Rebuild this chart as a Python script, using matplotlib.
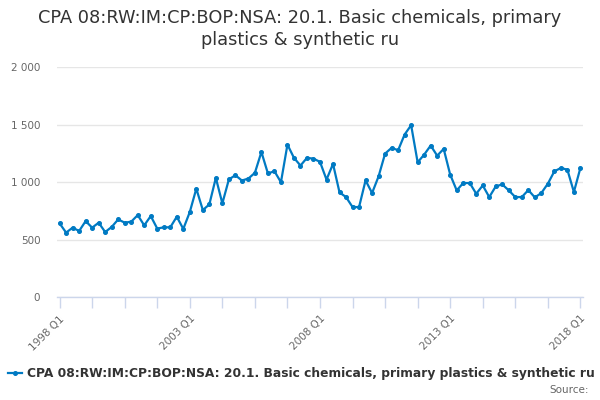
import matplotlib
matplotlib.use("Agg")
import matplotlib.pyplot as plt
from matplotlib.ticker import FuncFormatter, FixedLocator

title = "CPA 08:RW:IM:CP:BOP:NSA: 20.1. Basic chemicals, primary\nplastics & synthetic ru"
series_name = "CPA 08:RW:IM:CP:BOP:NSA: 20.1. Basic chemicals, primary plastics & synthetic ru"

quarters = [f"{y} Q{q}" for y in range(1998, 2019) for q in range(1, 5)][:81]
values = [640, 560, 603, 574, 660, 603, 646, 565, 609, 675,
          646, 655, 712, 623, 704, 595, 606, 606, 698, 592,
          739, 942, 756, 805, 1036, 814, 1022, 1059, 1013, 1030,
          1080, 1261, 1074, 1094, 998, 1325, 1210, 1143, 1210, 1203,
          1175, 1021, 1157, 909, 869, 782, 782, 1014, 904, 1049,
          1247, 1297, 1276, 1413, 1494, 1171, 1238, 1317, 1229, 1288,
          1064, 927, 991, 991, 898, 970, 869, 962, 979, 927,
          869, 869, 930, 866, 904, 985, 1093, 1122, 1107, 913,
          1122]
y_ticks = [0, 500, 1000, 1500, 2000]
x_label_idx = [0, 20, 40, 60, 80]

plt.rcParams['font.family'] = ['DejaVu Sans']
fig = plt.figure(figsize=(6, 4), dpi=100)
ax = fig.add_axes([57/600, 1-297/400, (583-57)/600, (297-67)/400])

x = list(range(len(values)))
line_color = '#007ac3'
ax.plot(x, values, color=line_color, lw=1.6, marker='o', ms=2.6, zorder=3)

ax.set_xlim(-0.4, len(values) - 1 + 0.4)
ax.set_ylim(0, 2000)
ax.set_yticks(y_ticks)
ax.yaxis.set_major_formatter(FuncFormatter(lambda v, p: f"{int(v):,}".replace(",", " ")))
ax.grid(axis='y', color='#e6e6e6', lw=1)
ax.set_axisbelow(True)
for s in ['top', 'right', 'left']:
    ax.spines[s].set_visible(False)
ax.spines['bottom'].set_color('#ccd6eb')
ax.spines['bottom'].set_linewidth(1)
ax.tick_params(axis='y', length=0, labelsize=7.5, labelcolor='#666666', pad=12)

ax.xaxis.set_minor_locator(FixedLocator(list(range(0, len(values), 5))))
ax.set_xticks(x_label_idx)
ax.set_xticklabels([quarters[i] for i in x_label_idx], rotation=45, ha='right',
                   rotation_mode='anchor', fontsize=7.5, color='#666666')
ax.tick_params(axis='x', which='both', length=8, color='#ccd6eb', width=1, pad=4)

fig.text(0.5, 0.978, title, ha='center', va='top', fontsize=12.8, color='#333333',
         linespacing=1.3)

# legend
fig.lines.append(plt.Line2D([8/600, 22/600], [1-373/400, 1-373/400], color=line_color,
                            lw=1.6, transform=fig.transFigure))
fig.lines.append(plt.Line2D([15/600], [1-373/400], color=line_color, marker='o', ms=2.6,
                            transform=fig.transFigure))
fig.text(27/600, 1-373/400, series_name, ha='left', va='center', fontsize=8.8,
         fontweight='bold', color='#333333')
fig.text(589/600, 1-390/400, "Source:", ha='right', va='center', fontsize=7.5, color='#666666')

fig.savefig("out.png", dpi=100)
